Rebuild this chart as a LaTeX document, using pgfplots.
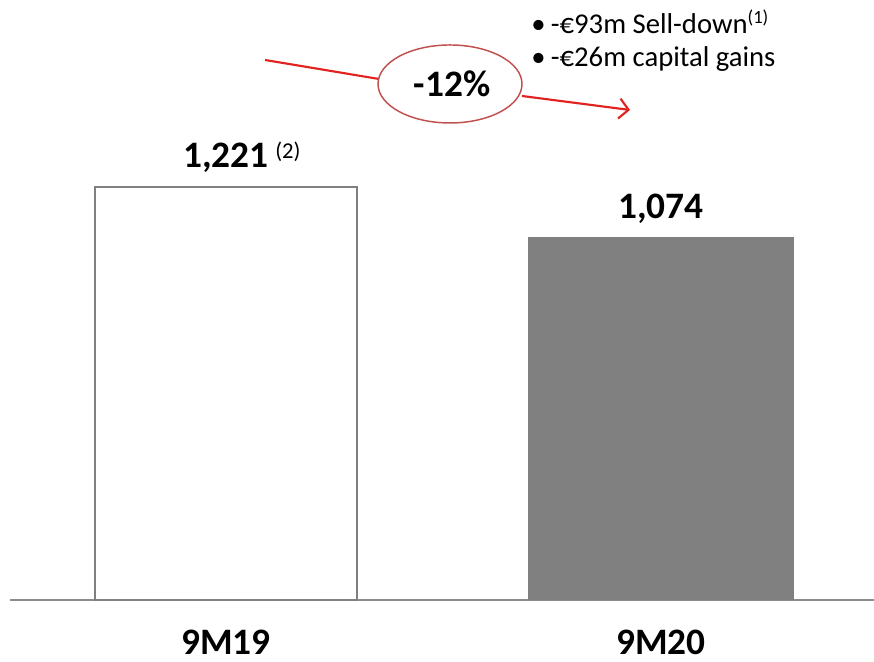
\documentclass[border=0pt]{standalone}
\usepackage{pgfplots}
\pgfplotsset{compat=1.18}
\usepackage{fontspec}
\setmainfont{Carlito}
\usetikzlibrary{arrows.meta}

\definecolor{barfill}{RGB}{128,128,128}
\definecolor{barline}{RGB}{128,128,128}
\definecolor{baseline}{RGB}{140,140,140}
\definecolor{arrowred}{RGB}{226,34,30}
\definecolor{ringred}{RGB}{192,80,77}

\begin{document}
\begin{tikzpicture}
\begin{axis}[
  scale only axis,
  width=648pt, height=450pt,
  xmin=10, xmax=874,
  ymin=0, ymax=1774,
  clip=false,
  axis x line*=bottom,
  axis y line=none,
  x axis line style={draw=baseline, line width=1.8pt, -},
  xtick={226,661},
  xticklabels={9M19,9M20},
  major tick length=0pt,
  xticklabel style={font=\fontsize{28}{28}\selectfont\bfseries, anchor=base, inner sep=0pt, yshift=-40.5pt},
  ybar,
]
% 9M19: outlined bar
\addplot[bar width=262, bar shift=0pt, fill=white, draw=barline, line width=1.2pt]
  coordinates {(226,1221)};
% 9M20: filled bar
\addplot[bar width=266, bar shift=0pt, fill=barfill, draw=none]
  coordinates {(661,1074)};

% value labels
\node[anchor=base, yshift=15pt, font=\fontsize{28}{28}\selectfont\bfseries]
  at (axis cs:226,1221) {1,221\rlap{\mdseries\hspace{5pt}\raisebox{6.5pt}{\fontsize{17}{17}\selectfont(2)}}};
\node[anchor=base, yshift=14pt, font=\fontsize{28}{28}\selectfont\bfseries]
  at (axis cs:661,1074) {1,074};

% change arrow with ring
\draw[arrowred, line width=1.6pt] (axis cs:265,1596.6) -- (axis cs:379,1540.4);
\draw[arrowred, line width=1.6pt, -{Straight Barb[length=7pt,width=15pt,line width=1.6pt]}]
  (axis cs:522,1490.2) -- (axis cs:630,1448.8);
\draw[ringred, line width=1.1pt] (axis cs:450,1525.7) ellipse [x radius=54pt, y radius=29.25pt];
\node[anchor=base, font=\fontsize{28}{28}\selectfont\bfseries] at (axis cs:452,1487.2) {-12\%};

% drivers
\node[anchor=base west, inner sep=0pt, font=\fontsize{21.5}{21.5}\selectfont]
  at (axis cs:531,1676.4) {•\hspace{4pt}-€93m Sell-down\raisebox{7pt}{\fontsize{14}{14}\selectfont(1)}};
\node[anchor=base west, inner sep=0pt, font=\fontsize{21.5}{21.5}\selectfont]
  at (axis cs:531,1575.9) {•\hspace{4pt}-€26m capital gains};

\coordinate (bl) at (axis cs:0,-183.3);
\coordinate (tr) at (axis cs:874,1774);
\end{axis}
\pgfresetboundingbox
\path[use as bounding box] (bl) rectangle (tr);
\end{tikzpicture}
\end{document}
